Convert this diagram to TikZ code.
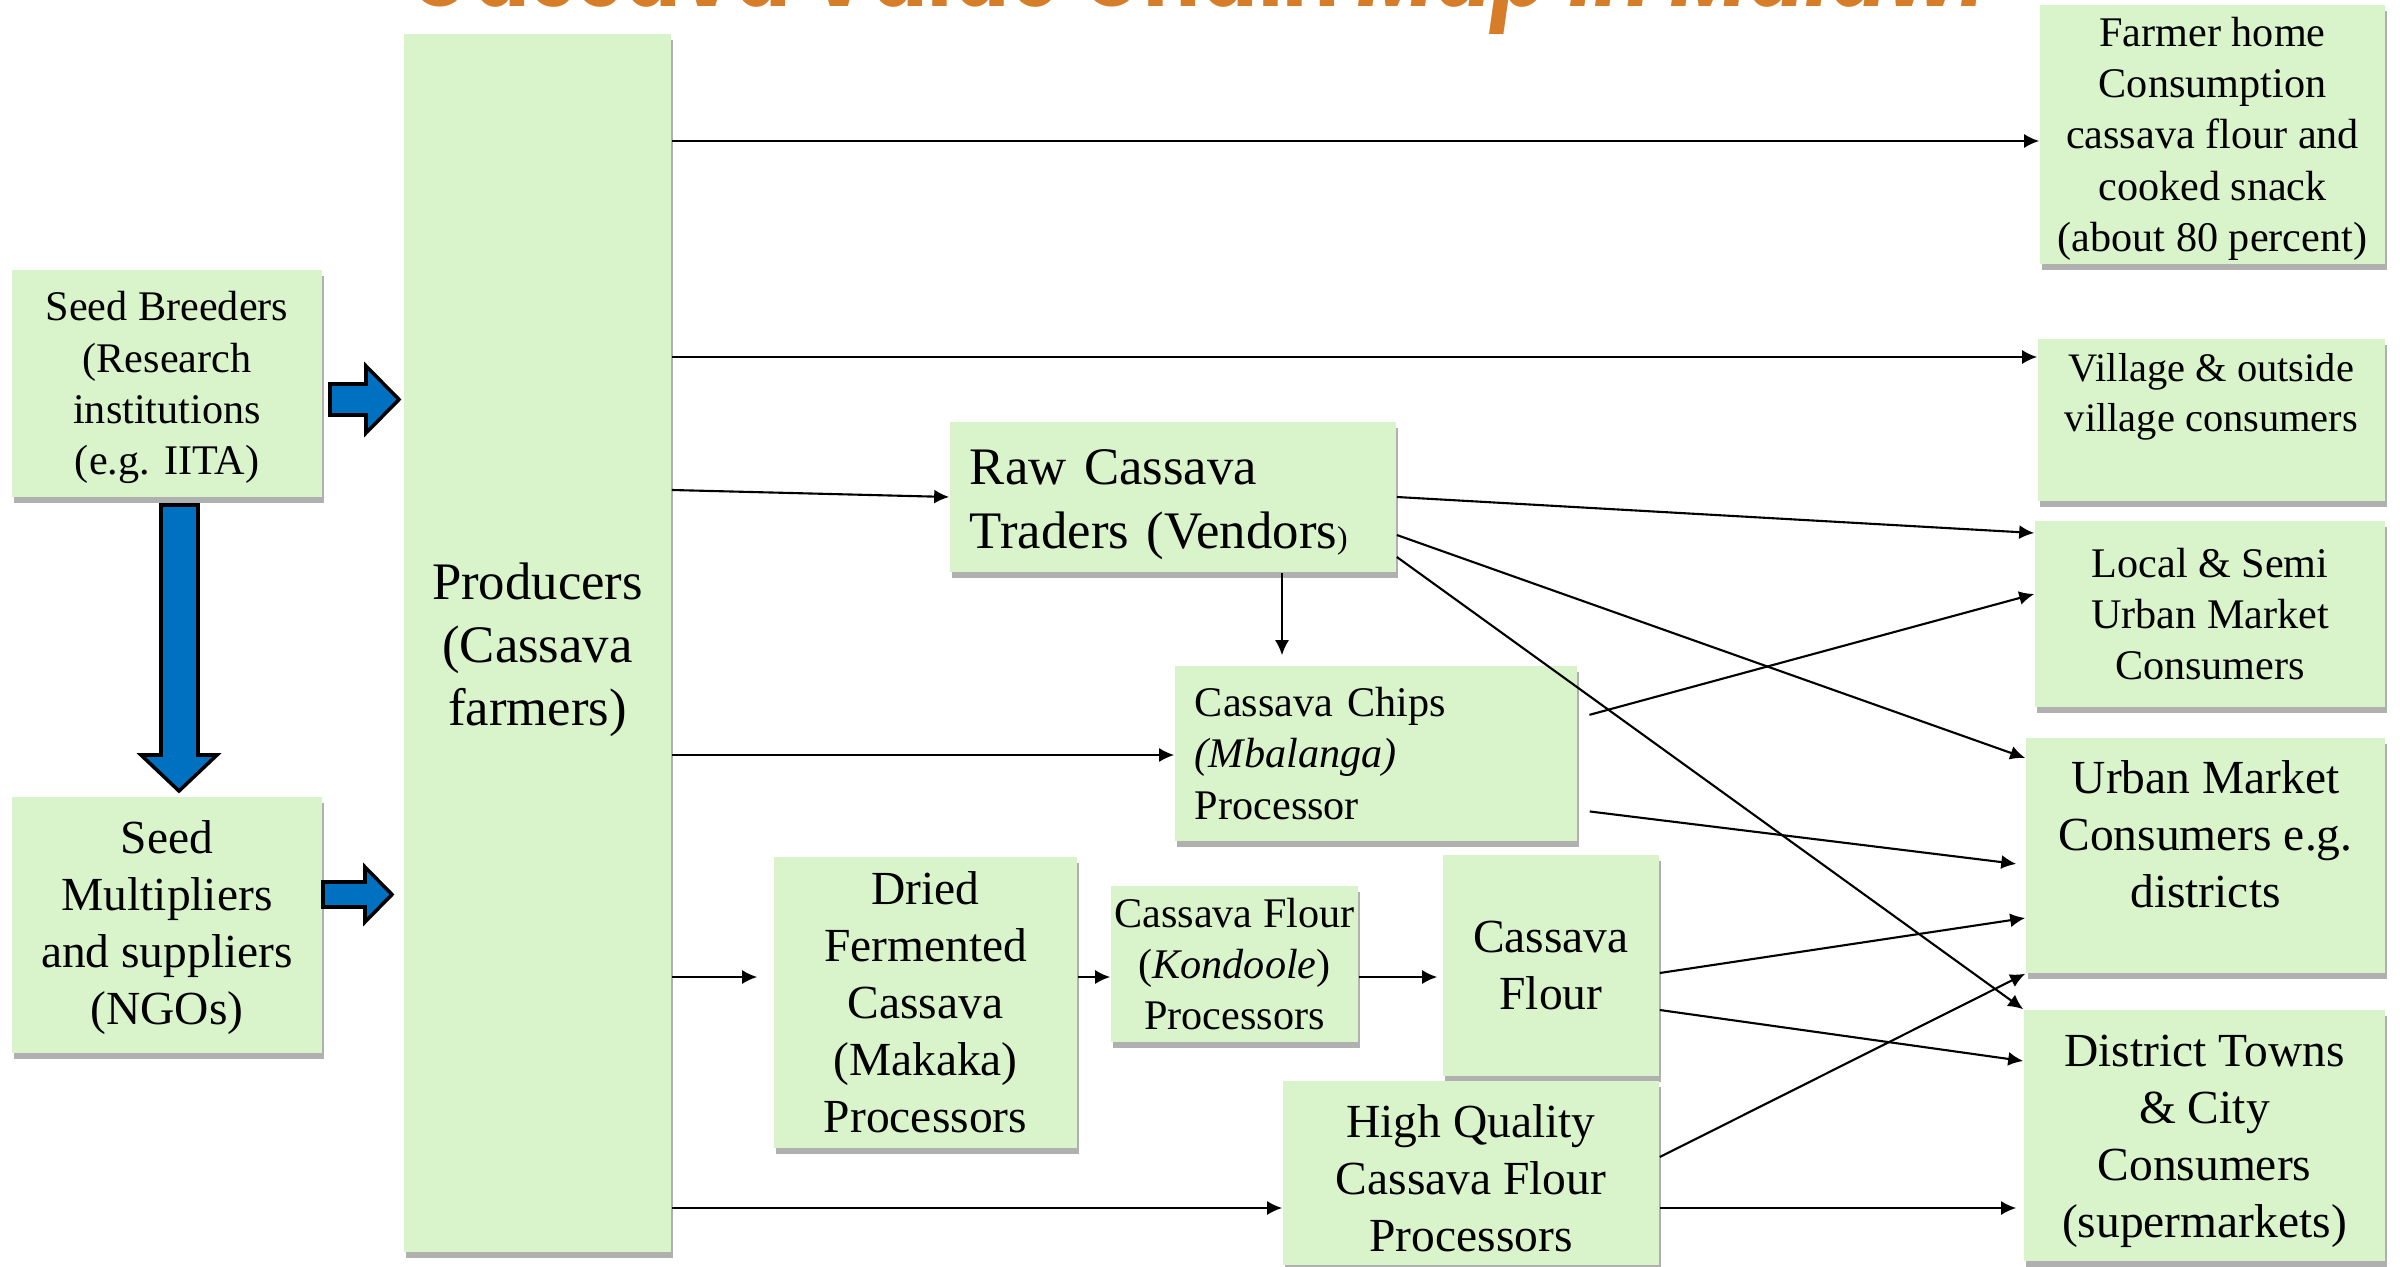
\documentclass[tikz,border=0pt]{standalone}
\usepackage{fontspec}
\setmainfont{Liberation Serif}
\newfontfamily\titlefont[FakeStretch=0.8]{Poppins}
\usepackage{xcolor}
\usetikzlibrary{positioning,arrows.meta,shadows,calc}

\definecolor{boxgreen}{RGB}{217,243,203}
\definecolor{shadowgray}{RGB}{176,176,176}
\definecolor{seedblue}{RGB}{0,112,192}
\definecolor{titleorange}{RGB}{214,125,42}

% taller first line, pushes the text block a little down
\newcommand{\topstrut}[1][0.9em]{\rule{0pt}{#1}}

\begin{document}
\begin{tikzpicture}[x=0.01cm, y=-0.01cm,
    box/.style={fill=boxgreen, inner sep=0pt, align=center,
        drop shadow={shadow xshift=0.02cm, shadow yshift=-0.06cm, fill=shadowgray, opacity=1}},
    leftbox/.style={box, align=left, inner xsep=0.2cm},
    flow/.style={-{Latex[length=1.5mm,width=1.4mm]}, line width=0.6pt},
    blockarrow/.style={fill=seedblue, draw=black, line width=1pt, line join=miter},
    fsmall/.style={font=\fontsize{11.5}{14}\selectfont},
    fmid/.style={font=\fontsize{12}{14.6}\selectfont},
    flarge/.style={font=\fontsize{13.5}{16.2}\selectfont},
    fhuge/.style={font=\fontsize{15}{18}\selectfont}]
    \useasboundingbox (0,0) rectangle (2400,1267);

    % title, cut by the top edge
    \node[anchor=base, text=titleorange, font=\titlefont\bfseries\fontsize{30}{34}\selectfont] (title) at (1198,7)
        {Cassava Value Chain \textit{Map in Malawi}};

    % seed side
    \node[box, fmid, minimum width=3.10cm, minimum height=2.27cm] (breed) at (167,383.5)
        {\topstrut Seed Breeders\\(Research\\institutions\\(e.g. IITA)};
    \node[box, flarge, minimum width=3.10cm, minimum height=2.56cm] (mult) at (167,925)
        {\topstrut[0.8em]Seed\\Multipliers\\and suppliers\\(NGOs)};
    \node[box, fhuge, minimum width=2.67cm, minimum height=12.18cm] (prod) at (537.5,643)
        {\topstrut[0.95em]Producers\\(Cassava\\farmers)};

    \draw[blockarrow] (161,505) -- (198,505) -- (198,755) -- (217,755) -- (179,791) -- (141,755) -- (161,755) -- cycle;
    \draw[blockarrow] (330,384) -- (366,384) -- (366,366) -- (399,399.5) -- (366,433) -- (366,415) -- (330,415) -- cycle;
    \draw[blockarrow] (323,882) -- (365,882) -- (365,867) -- (392,894.5) -- (365,922) -- (365,907) -- (323,907) -- cycle;

    % processing
    \node[leftbox, fhuge, text width=4.06cm, minimum height=1.50cm] (raw) at (1173,497)
        {\topstrut[0.95em]Raw Cassava\\Traders (Vendors{\fontsize{9}{9}\selectfont)}};
    \node[leftbox, fmid, text width=3.62cm, minimum height=1.75cm] (chips) at (1376,753.5)
        {Cassava Chips\\\textit{(Mbalanga)}\\Processor};
    \node[box, flarge, minimum width=3.03cm, minimum height=2.91cm] (dried) at (925.5,1002.5)
        {Dried\\Fermented\\Cassava\\(Makaka)\\Processors};
    \node[box, fmid, minimum width=2.47cm, minimum height=1.56cm] (kond) at (1234.5,964)
        {Cassava Flour\\(\textit{Kondoole})\\Processors};
    \node[box, flarge, minimum width=2.16cm, minimum height=2.21cm] (flour) at (1551,965.5)
        {Cassava\\Flour};
    \node[box, flarge, minimum width=3.76cm, minimum height=1.84cm] (hq) at (1471,1173)
        {\topstrut High Quality\\Cassava Flour\\Processors};

    % consumers
    \node[box, fmid, minimum width=3.45cm, minimum height=2.59cm] (farm) at (2212.5,134.5)
        {\topstrut Farmer home\\Consumption\\cassava flour and\\cooked snack\\(about 80 percent)};
    \node[box, fsmall, minimum width=3.47cm, minimum height=1.62cm] (vill) at (2211.5,420)
        {\topstrut Village \& outside\\village consumers\\[4pt]\mbox{}};
    \node[box, fmid, minimum width=3.50cm, minimum height=1.86cm] (local) at (2210,614)
        {Local \& Semi\\Urban Market\\Consumers};
    \node[box, flarge, minimum width=3.59cm, minimum height=2.35cm] (urban) at (2205.5,855.5)
        {Urban Market\\Consumers e.g.\\districts\\[-4pt]\mbox{}};
    \node[box, flarge, minimum width=3.61cm, minimum height=2.51cm] (dist) at (2204.5,1135.5)
        {\topstrut District Towns\\\& City\\Consumers\\(supermarkets)};

    % flows
    \draw[flow] (prod.east |- 0,141) -- (farm.west |- 0,141);
    \draw[flow] (prod.east |- 0,357) -- (vill.west |- 0,357);
    \draw[flow] (prod.east |- 0,490) -- (raw.west);
    \draw[flow] (prod.east |- 0,755) -- (chips.west |- 0,755);
    \draw[flow, shorten >=0.16cm] (prod.east |- 0,977) -- (dried.west |- 0,977);
    \draw[flow] (prod.east |- 0,1208) -- (hq.west |- 0,1208);

    \draw[flow, shorten >=0.1cm] (1282,0 |- raw.south) -- (1282,0 |- chips.north);
    \draw[flow] (raw.east) -- (local.west |- 0,533);
    \draw[flow] (raw.east |- 0,535) -- (urban.west |- 0,758);
    \draw[flow] (raw.east |- 0,557) -- (dist.north west);

    \draw[flow, shorten <=0.12cm] (chips.east |- 0,718) -- (local.west |- 0,594);
    \draw[flow, shorten <=0.12cm, shorten >=0.09cm] (chips.east |- 0,810) -- (urban.west |- 0,865);

    \draw[flow] (dried.east |- 0,977) -- (kond.west |- 0,977);
    \draw[flow, shorten >=0.05cm] (kond.east |- 0,977) -- (flour.west |- 0,977);
    \draw[flow] (flour.east |- 0,973) -- (urban.west |- 0,918);
    \draw[flow] (flour.east |- 0,1010) -- (dist.west |- 0,1061);
    \draw[flow] (hq.east |- 0,1157) -- (urban.south west);
    \draw[flow, shorten >=0.07cm] (hq.east |- 0,1208) -- (dist.west |- 0,1208);
\end{tikzpicture}
\end{document}
